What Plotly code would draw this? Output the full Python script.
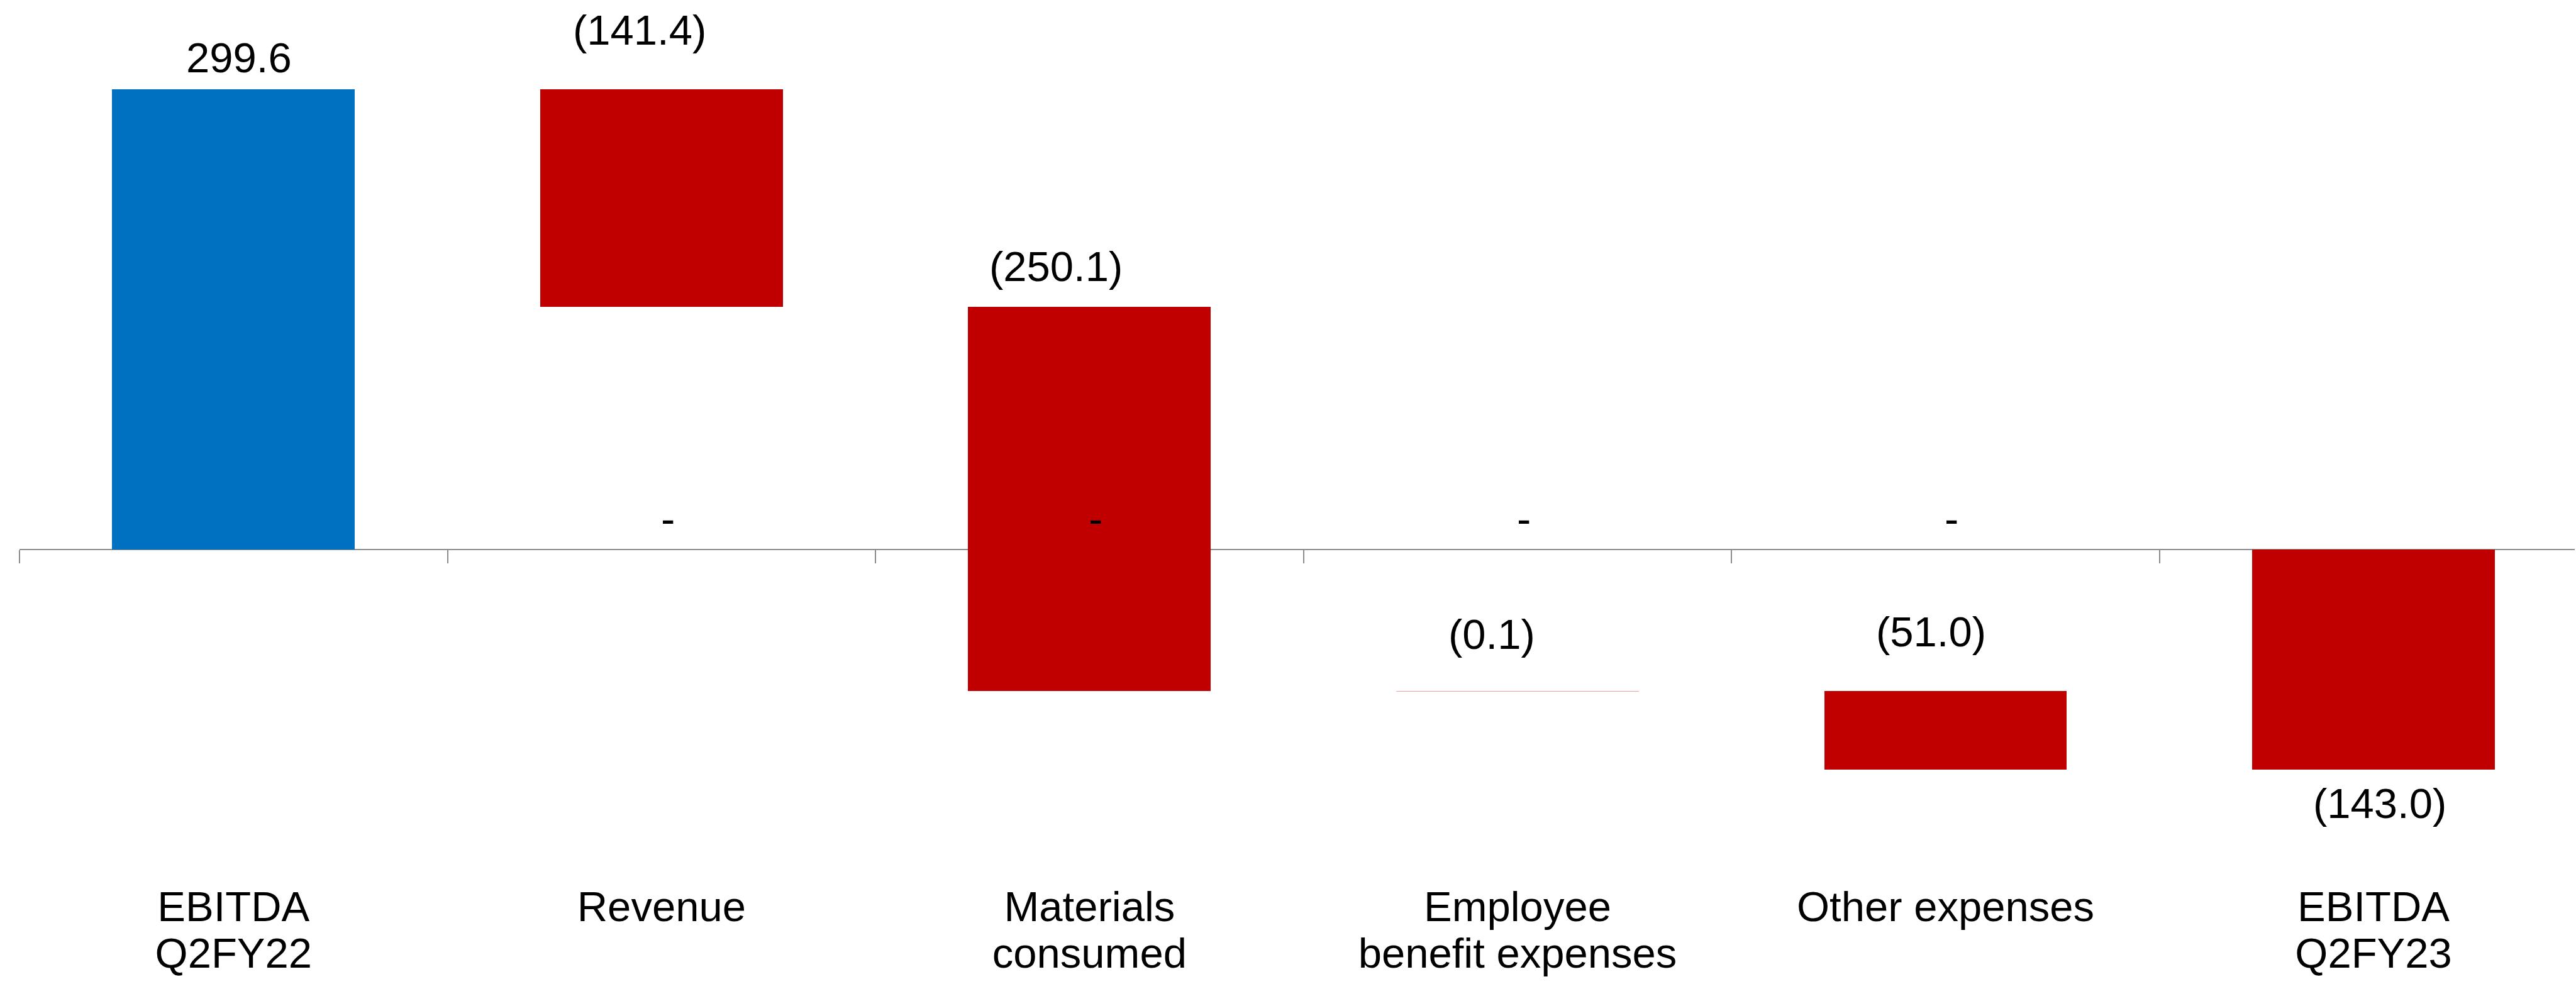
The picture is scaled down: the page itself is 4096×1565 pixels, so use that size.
import plotly.graph_objects as go

# ---------------- data ----------------
categories = ["EBITDA Q2FY22", "Revenue", "Materials consumed",
              "Employee benefit expenses", "Other expenses", "EBITDA Q2FY23"]
tick_line1 = ["EBITDA", "Revenue", "Materials", "Employee", "Other expenses", "EBITDA"]
tick_line2 = ["Q2FY22", "", "consumed", "benefit expenses", "", "Q2FY23"]
changes = [299.6, -141.4, -250.1, -0.1, -51.0, -143.0]
measures = ["absolute", "relative", "relative", "relative", "relative", "total"]
# categories whose (zero) increase series shows a "-" label
zero_items = ["Revenue", "Materials consumed", "Employee benefit expenses", "Other expenses"]
zero_values = [0, 0, 0, 0]

# ---------------- style ----------------
S = 0.987
FIG_W, FIG_H = 4096, 1565
FONT = "Liberation Sans, Arial, sans-serif"
FS = 67
BLUE, RED = "#0070C0", "#C00000"
bar_colors = [BLUE, RED, RED, "#F2A0A0", RED, RED]
label_side = ["top", "top", "top", "top", "top", "bottom"]
label_dy = [51.5, 95.5, 65.5, 92, 96, -54.5]       # reference px, + is up
label_dx = [9, -35, -54, -41, -23, 10]             # reference px
dash_dy, dash_dx = 50.5, 10

# waterfall geometry from data
bases, heights = [], []
running = 0.0
for v, m in zip(changes, measures):
    if m == "absolute":
        bases.append(0.0); heights.append(v); running = v
    elif m == "relative":
        bases.append(running); heights.append(v); running += v
    else:
        bases.append(0.0); heights.append(running)

# pixel layout (output px)
left = 31 * S
right_edge = 4148 * S
plot_bottom = 1397
zero_px = 886 * S
px_per_unit = 742 / 299.6 * S
y_top = zero_px / px_per_unit
y_bot = -(plot_bottom - zero_px) / px_per_unit
cat_w = 689.6
x_hi = -0.5 + (4148 - 31) / cat_w

fig = go.Figure()
fig.add_trace(go.Bar(
    x=categories, y=heights, base=bases, width=0.567,
    marker=dict(color=bar_colors, line=dict(width=0)),
    hoverinfo="skip", showlegend=False,
))
# invisible helpers so the overlay axes (zero line, second label row) are drawn
for ax in ("x2", "x3"):
    fig.add_trace(go.Scatter(
        x=categories, y=[0] * len(categories), xaxis=ax, yaxis="y",
        mode="markers", marker=dict(opacity=0), hoverinfo="skip", showlegend=False,
    ))

ann = []
for i, (c, b, h, v) in enumerate(zip(categories, bases, heights, changes)):
    txt = f"({abs(v):.1f})" if v < 0 else f"{v:.1f}"
    yv = max(b, b + h) if label_side[i] == "top" else min(b, b + h)
    ann.append(dict(x=c, y=yv, xref="x", yref="y", text=txt, showarrow=False,
                    yanchor="middle", xanchor="center",
                    yshift=label_dy[i] * S, xshift=label_dx[i] * S,
                    font=dict(family=FONT, size=FS, color="#000000")))
for c, z in zip(zero_items, zero_values):
    ann.append(dict(x=c, y=z, xref="x", yref="y", text="-", showarrow=False,
                    yanchor="middle", xanchor="center",
                    yshift=dash_dy * S, xshift=dash_dx * S,
                    font=dict(family=FONT, size=FS, color="#000000")))

common_x = dict(type="category", categoryorder="array", categoryarray=categories,
                range=[-0.5, x_hi], showgrid=False, zeroline=False, automargin=False)

fig.update_layout(
    width=FIG_W, height=FIG_H,
    margin=dict(l=left, r=FIG_W - right_edge, t=0, b=FIG_H - plot_bottom, pad=0,
                autoexpand=False),
    paper_bgcolor="white", plot_bgcolor="white",
    font=dict(family=FONT, size=FS, color="#000000"),
    showlegend=False,
    bargap=0,
    annotations=ann,
    xaxis=dict(
        **common_x, tickvals=categories, ticktext=tick_line1,
        showline=False, ticks="",
        tickfont=dict(family=FONT, size=FS, color="#000000"),
    ),
    xaxis2=dict(
        **common_x, overlaying="x", anchor="free",
        position=(plot_bottom - zero_px) / plot_bottom,
        showline=True, linecolor="#8C8C8C", linewidth=2,
        ticks="outside", tickson="boundaries", ticklen=21 * S, tickwidth=2,
        tickcolor="#8C8C8C", showticklabels=False, layer="below traces",
    ),
    xaxis3=dict(
        **common_x, overlaying="x", anchor="free", position=0, side="bottom",
        tickvals=categories, ticktext=tick_line2,
        showline=False, ticks="", ticklabelstandoff=74,
        tickfont=dict(family=FONT, size=FS, color="#000000"),
    ),
    yaxis=dict(range=[y_bot, y_top], visible=False, showgrid=False, zeroline=False,
               automargin=False),
)

fig.write_html("out.html")
